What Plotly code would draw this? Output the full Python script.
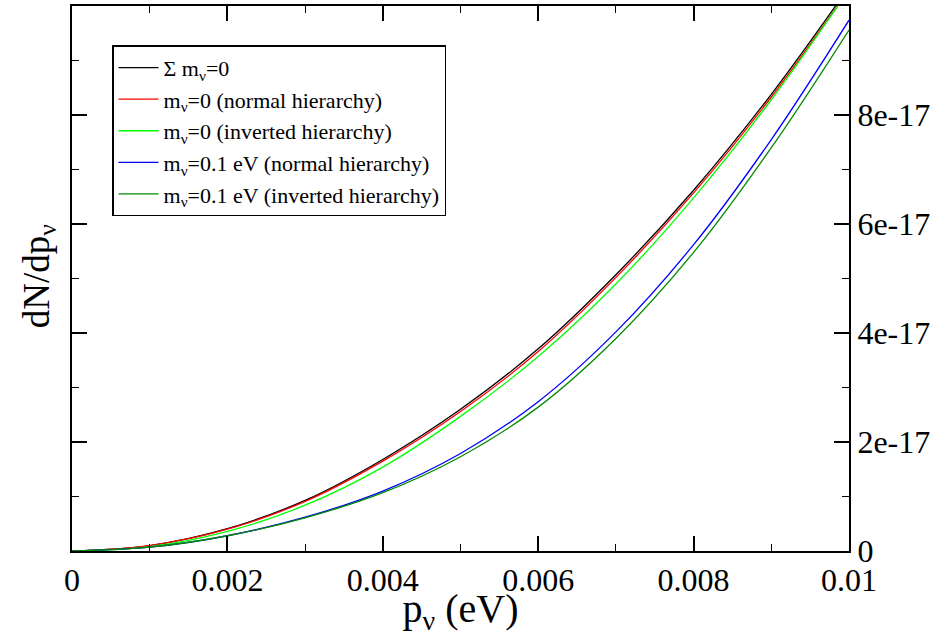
import plotly.graph_objects as go

# momentum p_nu (eV)
p_nu = [0.0, 0.001, 0.002, 0.003, 0.004, 0.005, 0.006, 0.007, 0.008, 0.009, 0.010]

# dN/dp_nu in units of 1e-17
sum_m0 = [0.0, 0.10, 0.41, 0.93, 1.68, 2.60, 3.71, 5.07, 6.62, 8.38, 10.35]
m0_normal = [0.0, 0.10, 0.40, 0.91, 1.65, 2.56, 3.66, 5.02, 6.57, 8.33, 10.30]
m0_inverted = [0.0, 0.08, 0.36, 0.84, 1.54, 2.47, 3.57, 4.90, 6.48, 8.28, 10.30]
m01_normal = [0.0, 0.07, 0.28, 0.62, 1.10, 1.79, 2.74, 4.02, 5.62, 7.55, 9.74]
m01_inverted = [0.0, 0.07, 0.28, 0.61, 1.07, 1.73, 2.64, 3.90, 5.48, 7.40, 9.56]

scale = 1e-17

series_names = [
    "Σ m<sub>ν</sub>=0",
    "m<sub>ν</sub>=0 (normal hierarchy)",
    "m<sub>ν</sub>=0 (inverted hierarchy)",
    "m<sub>ν</sub>=0.1 eV (normal hierarchy)",
    "m<sub>ν</sub>=0.1 eV (inverted hierarchy)",
]
series_values = [sum_m0, m0_normal, m0_inverted, m01_normal, m01_inverted]
series_colors = ["#000000", "#ff0000", "#00ff00", "#0000ff", "#008b00"]

y_tickvals = [0, 2e-17, 4e-17, 6e-17, 8e-17]
y_ticktext = ["0", "2e-17", "4e-17", "6e-17", "8e-17"]
x_tickvals = [0, 0.002, 0.004, 0.006, 0.008, 0.01]
x_ticktext = ["0", "0.002", "0.004", "0.006", "0.008", "0.01"]

FONT = "'Liberation Serif', 'Times New Roman', serif"

fig = go.Figure()
for i, (name, vals, col) in enumerate(zip(series_names, series_values, series_colors)):
    fig.add_trace(go.Scatter(
        x=p_nu, y=[v * scale for v in vals], mode="lines", name=name,
        line=dict(color=col, width=1.3, shape="spline", smoothing=1.0),
        legendgroup=f"g{i}",
    ))

fig.update_layout(
    width=952, height=636,
    margin=dict(l=72, r=103, t=6, b=85),
    paper_bgcolor="white", plot_bgcolor="white",
    font=dict(family=FONT, color="black", size=32),
    showlegend=True,
    legend=dict(
        x=0.0515, y=0.928, xanchor="left", yanchor="top",
        bgcolor="white", bordercolor="black", borderwidth=1.5,
        font=dict(family=FONT, size=22, color="black"),
        tracegroupgap=0, traceorder="grouped", itemwidth=40,
    ),
)

fig.update_xaxes(
    range=[0, 0.01], tickvals=x_tickvals, ticktext=x_ticktext,
    showgrid=False, zeroline=False, automargin=False,
    showline=True, linecolor="black", linewidth=2, mirror="ticks",
    ticks="inside", ticklen=15, tickwidth=1.5, tickcolor="black",
    minor=dict(ticks="inside", ticklen=7, dtick=0.001, tickwidth=1.2, tickcolor="black", showgrid=False),
    tickfont=dict(family=FONT, size=32),
    title=dict(text="p<sub>ν</sub> (eV)", font=dict(family=FONT, size=40), standoff=0),
)
fig.update_yaxes(
    range=[0, 1e-16], tickvals=y_tickvals, ticktext=y_ticktext, side="right",
    showgrid=False, zeroline=False, automargin=False,
    showline=True, linecolor="black", linewidth=2, mirror="ticks",
    ticks="inside", ticklen=15, tickwidth=1.5, tickcolor="black",
    minor=dict(ticks="inside", ticklen=7, tickvals=[1e-17, 3e-17, 5e-17, 7e-17, 9e-17, 1e-16],
               tickwidth=1.2, tickcolor="black", showgrid=False),
    tickfont=dict(family=FONT, size=32),
)

fig.add_annotation(
    text="dN/dp<sub>ν</sub>", xref="paper", yref="paper",
    x=-0.042, y=0.505, xanchor="center", yanchor="middle",
    textangle=-90, showarrow=False,
    font=dict(family=FONT, size=37, color="black"),
)

fig.write_html("out.html", config={"displayModeBar": False},
               post_script="document.body.style.margin='0px';")
